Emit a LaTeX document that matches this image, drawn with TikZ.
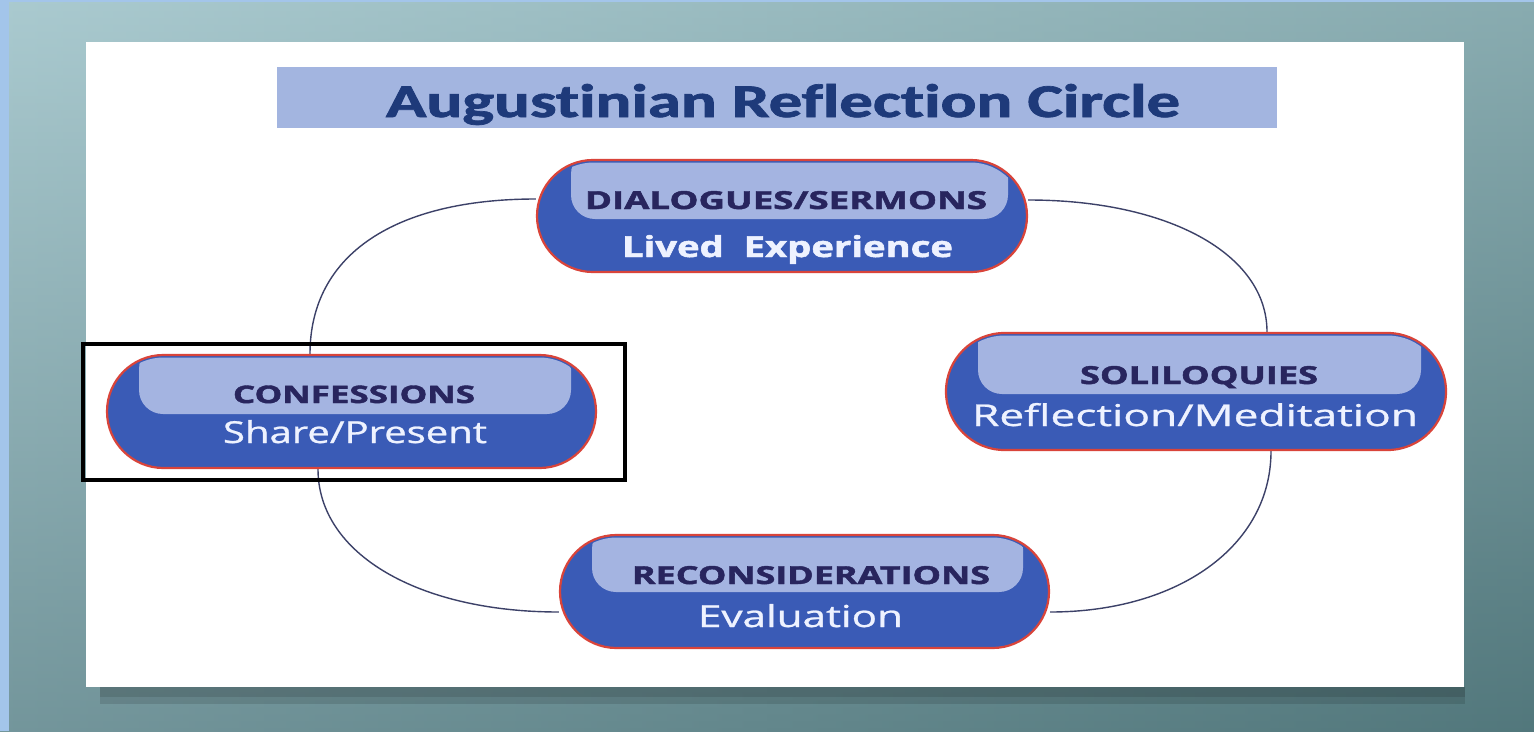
\documentclass[tikz,border=0pt]{standalone}
\usepackage{fontspec}
\usepackage{graphicx}
\newfontfamily\ttlfont{Carlito}[Ligatures=NoCommon,FakeBold=1.5]
\newfontfamily\osfont{Open Sans}[Ligatures=NoCommon,FakeBold=0.8]
\newfontfamily\osheavy{Open Sans}[Ligatures=NoCommon,FakeBold=1.6]
\usetikzlibrary{shapes.misc,calc}
\pgfdeclarelayer{bg}
\pgfdeclarelayer{edges}
\pgfsetlayers{bg,edges,main}
\definecolor{nodeblue}{HTML}{3A5BB6}
\definecolor{tabblue}{HTML}{A4B4E1}
\definecolor{titlebox}{HTML}{A3B5E0}
\definecolor{titletext}{HTML}{1E3A7A}
\definecolor{uptext}{HTML}{28255E}
\definecolor{lowtext}{HTML}{EEF2FF}
\definecolor{bordred}{HTML}{D9443A}
\definecolor{linecol}{HTML}{3C4168}
\definecolor{bgA}{HTML}{A2C4CA}
\definecolor{bgB}{HTML}{5F878B}
\definecolor{bgC}{HTML}{B2D0D5}
\definecolor{bgD}{HTML}{46696E}
\definecolor{strip}{HTML}{A3C5EA}
\newcommand\fitt[3]{\resizebox{#1pt}{#2pt}{#3}}
\tikzset{
  stad/.style={rounded rectangle, fill=nodeblue, draw=bordred, line width=2.2pt, inner sep=0pt},
  lbl/.style={inner sep=0pt, anchor=base},
  conn/.style={draw=linecol, line width=1.4pt},
}
\begin{document}
\begin{tikzpicture}[x=1pt,y=-1pt]
\useasboundingbox (0,0) rectangle (1534,731);
% background
\begin{pgfonlayer}{bg}
\shade[left color=bgA, right color=bgB] (0,0) rectangle (1534,731);
\shade[top color=bgC, bottom color=bgD, opacity=0.5] (0,0) rectangle (1534,731);
\fill[strip] (0,0) rectangle (9,731);
\fill[strip] (0,0) rectangle (1534,2);
\fill[black, opacity=0.22] (100,687) rectangle (1465,697);
\fill[black, opacity=0.12] (100,697) rectangle (1465,704);
\fill[white] (86,42) rectangle (1464,687);
% title
\fill[titlebox] (277,67) rectangle (1277,128);
\end{pgfonlayer}
\node[lbl] (title) at (783,117) {\fitt{794}{33}{\ttlfont\bfseries\color{titletext}Augustinian Reflection Circle}};

% nodes
\node[stad, minimum width=490pt, minimum height=112pt] (top) at (782,216) {};
\begin{scope}
  \clip[rounded corners=54pt] (539.5,162.5) rectangle (1024.5,269.5);
  \fill[tabblue, rounded corners=24pt] (571,150) rectangle (1008,219);
\end{scope}
\node[stad, minimum width=500pt, minimum height=117pt] (right) at (1196,391.5) {};
\begin{scope}
  \clip[rounded corners=56pt] (948.5,335.5) rectangle (1443.5,447.5);
  \fill[tabblue, rounded corners=24pt] (978,320) rectangle (1421,394);
\end{scope}
\node[stad, minimum width=489pt, minimum height=113pt] (bottom) at (804.5,591.5) {};
\begin{scope}
  \clip[rounded corners=54pt] (562.5,537.5) rectangle (1046.5,645.5);
  \fill[tabblue, rounded corners=24pt] (592,525) rectangle (1023,592);
\end{scope}
\node[stad, minimum width=489pt, minimum height=113pt] (left) at (351.5,411.5) {};
\begin{scope}
  \clip[rounded corners=54pt] (109.5,357.5) rectangle (593.5,465.5);
  \fill[tabblue, rounded corners=24pt] (139,345) rectangle (571,414);
\end{scope}

% texts
\node[lbl] (top-a) at (786,209) {\fitt{402}{18}{\osheavy\bfseries\color{uptext}DIALOGUES/SERMONS}};
\node[lbl] (top-b) at (787.5,257) {\fitt{331}{22}{\osheavy\bfseries\color{lowtext}Lived\ \ Experience}};
\node[lbl] (left-a) at (354,403) {\fitt{242}{17.5}{\osheavy\bfseries\color{uptext}CONFESSIONS}};
\node[lbl] (left-b) at (355,443) {\fitt{264}{23}{\osfont\color{lowtext}Share/Present}};
\node[lbl] (right-a) at (1199,384) {\fitt{238}{18}{\osheavy\bfseries\color{uptext}SOLILOQUIES}};
\node[lbl] (right-b) at (1195,426) {\fitt{446}{23}{\osfont\color{lowtext}Reflection/Meditation}};
\node[lbl] (bottom-a) at (811,584) {\fitt{358}{18}{\osheavy\bfseries\color{uptext}RECONSIDERATIONS}};
\node[lbl] (bottom-b) at (800.5,627) {\fitt{205}{23}{\osfont\color{lowtext}Evaluation}};

% highlight frame
\node[draw=black, line width=3.5pt, minimum width=542pt, minimum height=136pt, inner sep=0pt] (frame) at (354,412) {};

% connectors
\begin{pgfonlayer}{edges}
\draw[conn] ([yshift=17pt]top.west) .. controls +(-140,0) and +(0,-100) .. ([xshift=-41.5pt]left.north);
\draw[conn] ([yshift=16pt]top.east) .. controls +(140,0) and +(0,-78) .. ([xshift=71pt]right.north);
\draw[conn] ([xshift=-33.5pt]left.south) .. controls +(0,85) and +(-140,0) .. ([yshift=-20.5pt]bottom.west);
\draw[conn] ([yshift=-20.5pt]bottom.east) .. controls +(128,0) and +(0,95) .. ([xshift=75pt]right.south);
\end{pgfonlayer}
\end{tikzpicture}
\end{document}
